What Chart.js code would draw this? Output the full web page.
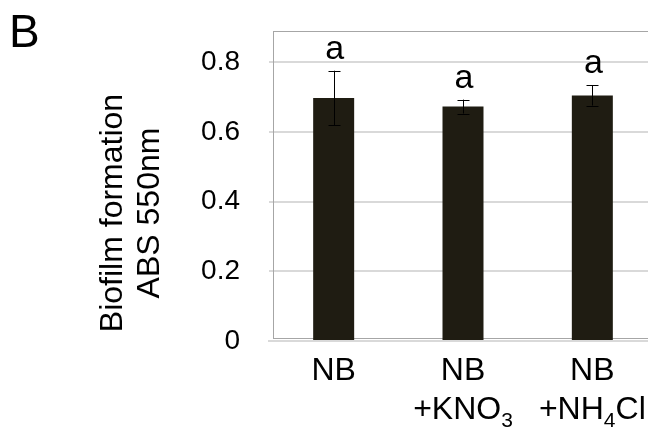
<!DOCTYPE html>
<html>
<head>
<meta charset="utf-8">
<script src="https://cdn.jsdelivr.net/npm/chart.js@4/dist/chart.umd.min.js"></script>
<style>
html, body { margin: 0; padding: 0; overflow: hidden; background: #fff; }
canvas { display: block; }
</style>
</head>
<body>
<canvas id="myChart" width="680" height="428"></canvas>
<script>
// ── Data ──────────────────────────────────────────────────────────────────────
var categories  = ['NB', 'NB +KNO3', 'NB +NH4Cl'];
var labelTop    = ['NB', 'NB', 'NB'];
// second label line, as [text, isSubscript] pieces
var labelBottom = [
  [],
  [['+KNO', 0], ['3', 1]],
  [['+NH', 0], ['4', 1], ['Cl', 0]]
];
var values  = [0.698, 0.673, 0.705];
var errors  = [0.078, 0.020, 0.029];
var letters = ['a', 'a', 'a'];
var yTicks  = [0, 0.2, 0.4, 0.6, 0.8];

var FONT = "'Liberation Sans', Arial, sans-serif";

// ── Plugins ───────────────────────────────────────────────────────────────────
var frameBox = {
  id: 'frameBox',
  beforeDatasetsDraw: function (chart) {
    var ctx = chart.ctx, a = chart.chartArea;
    ctx.save();
    ctx.strokeStyle = '#a6a6a6';
    ctx.lineWidth = 1;
    ctx.strokeRect(273.5, a.top + 0.5, chart.width, a.bottom - a.top - 3);
    ctx.restore();
  }
};

var errorBars = {
  id: 'errorBars',
  afterDatasetsDraw: function (chart) {
    var ctx = chart.ctx, y = chart.scales.y;
    var meta = chart.getDatasetMeta(0);
    ctx.save();
    ctx.strokeStyle = '#000';
    ctx.lineWidth = 1;
    ctx.fillStyle = '#000';
    ctx.font = '34px ' + FONT;
    ctx.textAlign = 'center';
    ctx.textBaseline = 'alphabetic';
    for (var i = 0; i < values.length; i++) {
      var x  = Math.round(meta.data[i].x) + 0.5;
      var hi = y.getPixelForValue(values[i] + errors[i]);
      var lo = y.getPixelForValue(values[i] - errors[i]);
      ctx.beginPath();
      ctx.moveTo(x, hi); ctx.lineTo(x, lo);
      ctx.moveTo(x - 6, Math.round(hi) + 0.5); ctx.lineTo(x + 6, Math.round(hi) + 0.5);
      ctx.moveTo(x - 6, Math.round(lo) + 0.5); ctx.lineTo(x + 6, Math.round(lo) + 0.5);
      ctx.stroke();
      ctx.fillText(letters[i], meta.data[i].x + 1, hi - 12);
    }
    ctx.restore();
  }
};

var texts = {
  id: 'texts',
  afterDraw: function (chart) {
    var ctx = chart.ctx;
    var meta = chart.getDatasetMeta(0);
    ctx.save();
    ctx.fillStyle = '#000';
    ctx.textBaseline = 'alphabetic';

    // panel letter
    ctx.font = '46px ' + FONT;
    ctx.textAlign = 'left';
    ctx.fillText('B', 9, 47);

    // y axis title
    ctx.save();
    ctx.translate(0, 213);
    ctx.rotate(-Math.PI / 2);
    ctx.font = '32px ' + FONT;
    ctx.textAlign = 'center';
    ctx.fillText('Biofilm formation', 0, 122);
    ctx.fillText('ABS 550nm', 0, 158.5);
    ctx.restore();

    // x labels
    for (var i = 0; i < labelTop.length; i++) {
      var cx = meta.data[i].x;
      ctx.font = '32px ' + FONT;
      ctx.textAlign = 'center';
      ctx.fillText(labelTop[i], cx, 380);

      var parts = labelBottom[i];
      if (parts.length === 0) continue;
      var total = 0, j;
      for (j = 0; j < parts.length; j++) {
        ctx.font = (parts[j][1] ? '21px ' : '32px ') + FONT;
        total += ctx.measureText(parts[j][0]).width;
      }
      var px = cx - total / 2;
      ctx.textAlign = 'left';
      for (j = 0; j < parts.length; j++) {
        ctx.font = (parts[j][1] ? '21px ' : '32px ') + FONT;
        ctx.fillText(parts[j][0], px, parts[j][1] ? 426.5 : 418.5);
        px += ctx.measureText(parts[j][0]).width;
      }
    }
    ctx.restore();
  }
};

// ── Chart ─────────────────────────────────────────────────────────────────────
var ctx = document.getElementById('myChart').getContext('2d');
var myChart = new Chart(ctx, {
  type: 'bar',
  data: {
    labels: categories,
    datasets: [{
      data: values,
      backgroundColor: '#1f1c12',
      borderWidth: 0,
      barPercentage: 0.317,
      categoryPercentage: 1
    }]
  },
  options: {
    responsive: false,
    animation: false,
    layout: { padding: { top: 31, right: 23, left: 0, bottom: 0 } },
    plugins: { legend: { display: false }, tooltip: { enabled: false } },
    scales: {
      x: {
        z: 1,
        grid: { display: false },
        border: { color: '#d9d9d9', width: 2 },
        ticks: { display: false },
        afterFit: function (s) { s.height = 87; s.paddingLeft = 0; s.paddingRight = 0; }
      },
      y: {
        min: 0,
        max: 0.89,
        afterBuildTicks: function (s) {
          s.ticks = yTicks.map(function (v) { return { value: v }; });
        },
        grid: { color: '#d9d9d9', lineWidth: 2, drawTicks: false },
        border: { display: false },
        ticks: {
          padding: 29,
          color: '#000',
          font: { family: FONT, size: 28 },
          callback: function (v) { return v === 0 ? '0' : v.toFixed(1); }
        },
        afterFit: function (s) { s.width = 269; s.paddingTop = 0; s.paddingBottom = 0; }
      }
    }
  },
  plugins: [frameBox, errorBars, texts]
});
</script>
</body>
</html>
